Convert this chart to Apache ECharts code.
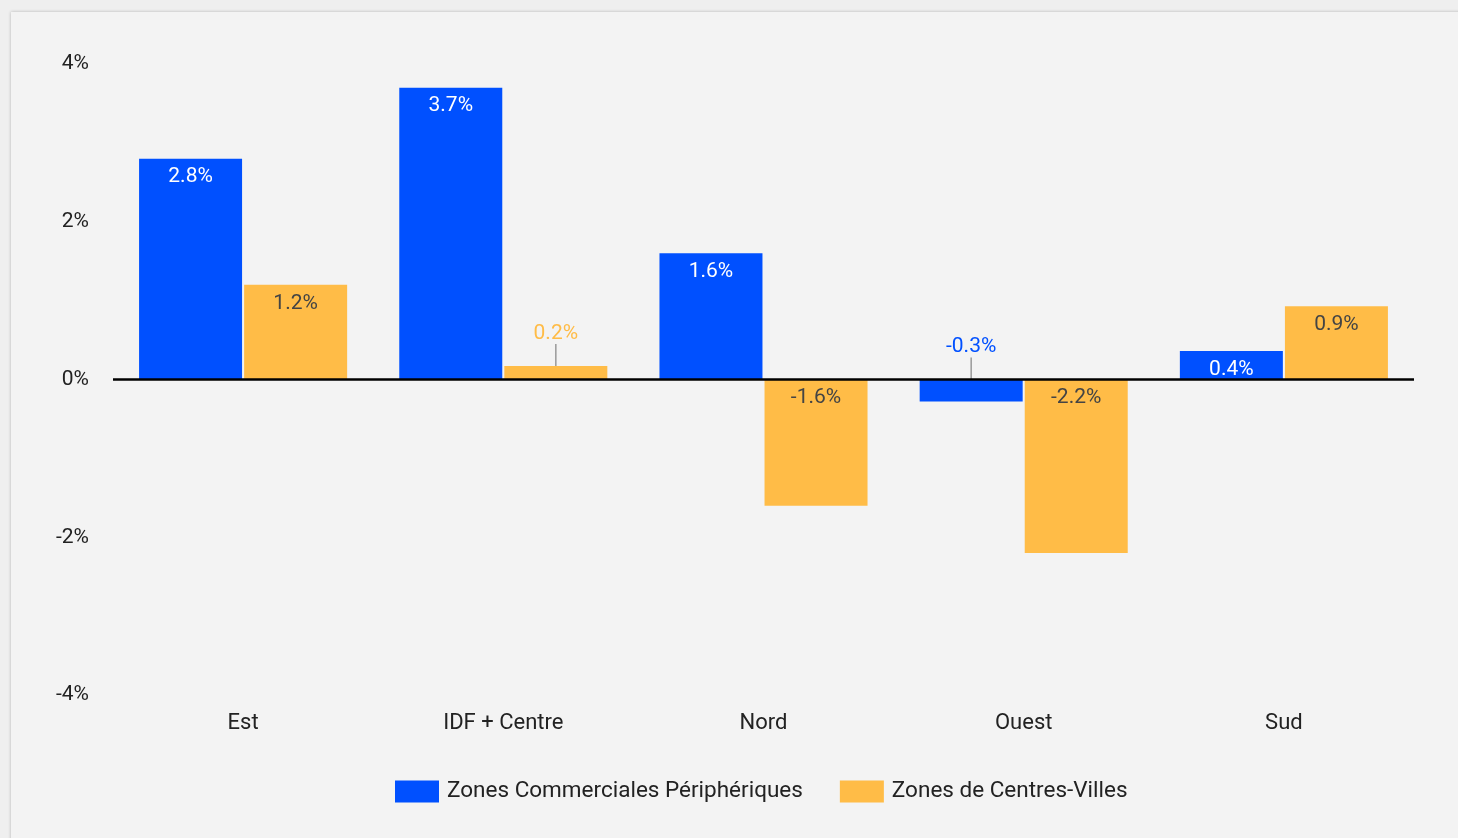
<!DOCTYPE html>
<html>
<head>
    <meta charset="utf-8">
    <title>Evolution par zone</title>
    <script src="https://cdn.jsdelivr.net/npm/echarts@6/dist/echarts.min.js"></script>
    <style>
        *{
            padding: 0;
            margin: 0;
        }
        html, body{
            width: 100%;
            height: 100%;
            background: #efefef;
            overflow: hidden;
        }
        #card{
            position: absolute;
            left: 11px;
            top: 12px;
            right: -10px;
            bottom: -10px;
            background: #f3f3f3;
            box-shadow: 0 0 3px rgba(0,0,0,0.25);
        }
        #main{
            position: absolute;
            left: 0;
            top: 0;
            width: 1458px;
            height: 838px;
        }
    </style>
</head>
<body>
<div id="card"></div>
<div id="main"></div>
<script>
    // données
    var zones = ['Est', 'IDF + Centre', 'Nord', 'Ouest', 'Sud'];
    var peripheriques = [2.8, 3.7, 1.6, -0.28, 0.36];
    var centresVilles = [1.2, 0.17, -1.6, -2.2, 0.93];
    var yTicks = [-4, -2, 0, 2, 4];

    var bleu = '#0050ff';
    var orange = '#ffbc47';
    var police = 'Roboto, "Noto Sans", sans-serif';

    // petites barres : étiquette au-dessus avec un trait
    function petit(v) { return Math.abs(v) < 0.3; }

    function serie(nom, valeurs, couleur, couleurTexte) {
        return {
            name: nom,
            type: 'bar',
            barWidth: 103,
            barGap: '2%',
            itemStyle: { color: couleur },
            data: valeurs.map(function (v) {
                if (petit(v)) {
                    return {
                        value: v,
                        label: { position: 'top', color: couleur, distance: 5 },
                        labelLine: { show: true, lineStyle: { color: '#999', width: 1.5 } }
                    };
                }
                return v;
            }),
            label: {
                show: true,
                position: 'insideTop',
                distance: 8,
                color: couleurTexte,
                fontSize: 21,
                fontFamily: police,
                formatter: function (p) { return p.value.toFixed(1) + '%'; }
            },
            labelLayout: function (p) {
                if (petit(valeurs[p.dataIndex])) return { dy: -17 };
                return {};
            }
        };
    }

    var myChart = echarts.init(document.getElementById('main'));
    var s1 = serie('Zones Commerciales Périphériques', peripheriques, bleu, '#ffffff');
    var s2 = serie('Zones de Centres-Villes', centresVilles, orange, '#444444');
    s1.markLine = {
        silent: true,
        symbol: 'none',
        label: { show: false },
        lineStyle: { color: '#000', width: 2.5, type: 'solid' },
        data: [{ yAxis: 0 }]
    };

    myChart.setOption({
        backgroundColor: 'transparent',
        animation: false,
        textStyle: { fontFamily: police },
        grid: {
            left: 113,
            right: 44,
            top: 64,
            bottom: 143
        },
        legend: {
            left: 395,
            top: 780,
            padding: 0,
            itemWidth: 44,
            itemHeight: 22,
            itemGap: 37,
            icon: 'rect',
            textStyle: { fontSize: 22.5, color: '#222', fontFamily: police, padding: [0, 0, 0, 3] }
        },
        xAxis: {
            type: 'category',
            data: zones,
            axisLine: { show: false },
            axisTick: { show: false },
            axisLabel: { fontSize: 22, color: '#222', margin: 17 }
        },
        yAxis: {
            type: 'value',
            min: yTicks[0],
            max: yTicks[yTicks.length - 1],
            interval: 2,
            splitLine: { show: false },
            axisLabel: {
                fontSize: 21,
                color: '#222',
                margin: 24,
                lineHeight: 21,
                padding: [5, 0, 0, 0],
                formatter: function (v) { return v + '%'; }
            }
        },
        series: [s1, s2]
    });
</script>
</body>
</html>
